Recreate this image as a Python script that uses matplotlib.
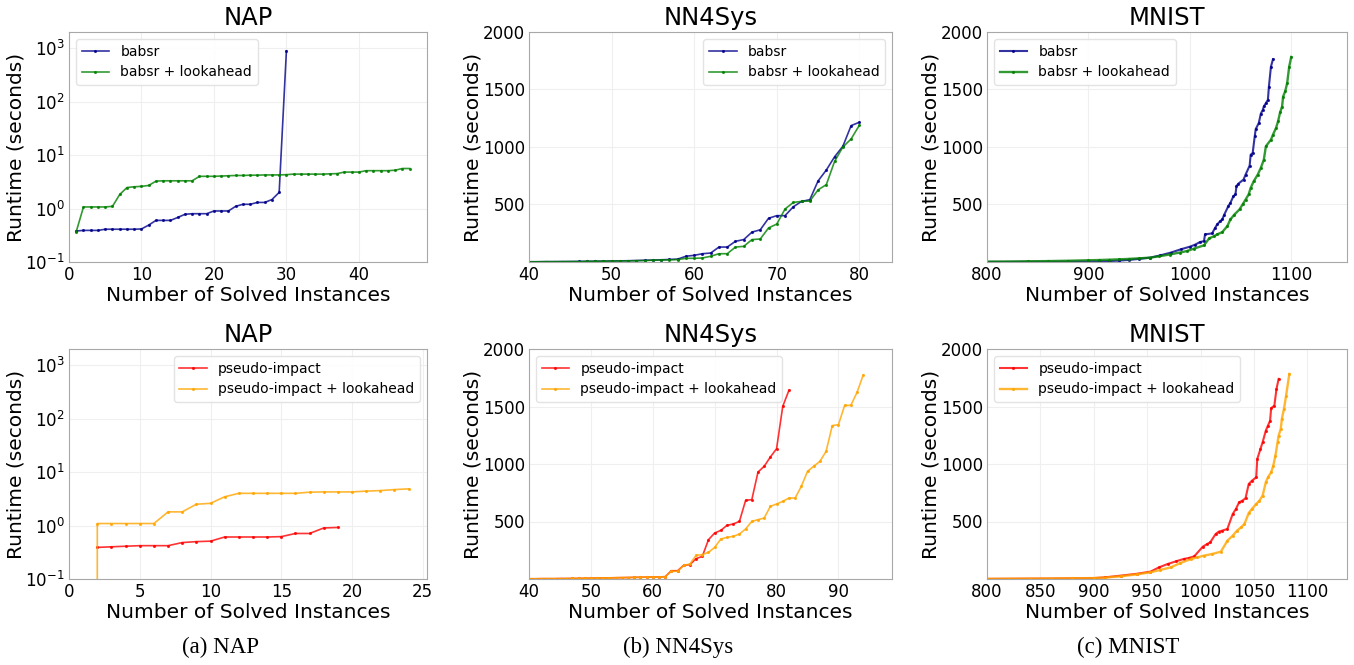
import numpy as np
import matplotlib
matplotlib.use("Agg")
import matplotlib.pyplot as plt
from matplotlib.ticker import NullLocator, LogLocator

# ---- NAP (log scale), x = 1..N ----
nap_babsr = [0.38, 0.39, 0.39, 0.39, 0.41, 0.41, 0.41, 0.41, 0.41, 0.415,
             0.49, 0.60, 0.60, 0.60, 0.68, 0.78, 0.80, 0.80, 0.80, 0.90,
             0.90, 0.90, 1.10, 1.20, 1.20, 1.30, 1.30, 1.47, 2.0, 890]
nap_babsr_la = [0.37, 1.07, 1.07, 1.07, 1.07, 1.10, 1.83, 2.47, 2.55, 2.60,
                2.70, 3.25, 3.30, 3.30, 3.30, 3.30, 3.30, 4.00, 4.00, 4.00,
                4.05, 4.10, 4.15, 4.15, 4.20, 4.20, 4.25, 4.25, 4.25, 4.30,
                4.40, 4.40, 4.40, 4.40, 4.40, 4.45, 4.50, 4.80, 4.80, 4.80,
                5.10, 5.10, 5.10, 5.10, 5.20, 5.60, 5.60]
nap_pi = [0.39, 0.40, 0.41, 0.42, 0.42, 0.42, 0.48, 0.50, 0.51, 0.61,
          0.61, 0.61, 0.61, 0.62, 0.71, 0.71, 0.90, 0.92]          # x = 2..19
nap_pi_la = [0.0, 1.09, 1.09, 1.09, 1.09, 1.09, 1.80, 1.80, 2.50, 2.60,
             3.45, 4.00, 4.00, 4.00, 4.00, 4.00, 4.20, 4.25, 4.25, 4.25,
             4.40, 4.50, 4.70, 4.85]                                # x = 1..24

# ---- NN4Sys, first value at x = 40 ----
nn_babsr = [2, 2, 3, 3, 4, 4, 5, 6, 7, 8, 9, 10, 11, 13, 15, 17, 19, 22, 25,
            50, 58, 72, 78, 130, 130, 180, 195, 260, 280, 380, 403, 403, 480,
            527, 542, 705, 800, 915, 1006, 1186, 1215]
nn_babsr_la = [2, 2, 3, 3, 3, 4, 4, 5, 6, 7, 8, 9, 10, 11, 13, 15, 17, 19, 21,
               32, 32, 35, 50, 72, 72, 130, 136, 195, 200, 296, 330, 461, 518,
               527, 530, 627, 673, 875, 1000, 1070, 1189]
nn_pi = [2, 2, 3, 3, 3, 4, 4, 5, 5, 6, 7, 8, 9, 10, 11, 12, 13, 14, 15, 16, 17,
         18, 20, 72, 72, 119, 125, 177, 197, 342, 400, 423, 467, 478, 501, 684,
         690, 930, 980, 1061, 1133, 1502, 1641]
nn_pi_la = [2, 2, 3, 3, 3, 4, 4, 5, 5, 6, 7, 8, 9, 10, 11, 12, 13, 14, 15, 16,
            17, 18, 20, 67, 67, 119, 130, 206, 212, 232, 275, 348, 362, 371,
            391, 435, 501, 516, 530, 632, 652, 675, 704, 704, 806, 936, 980,
            1023, 1110, 1334, 1342, 1510, 1510, 1623, 1774]

# ---- MNIST ----
mn_babsr_x = [790, 800, 820, 840, 860, 880, 900, 910, 920, 930, 940, 950, 961,
              971, 981, 991, 1000, 1005, 1010, 1014, 1015, 1022, 1025, 1027,
              1030, 1032, 1034, 1038, 1040, 1043, 1045, 1046, 1048, 1053, 1055,
              1059, 1060, 1062, 1064, 1065, 1068, 1070, 1072, 1073, 1075, 1077,
              1078, 1080, 1082]
mn_babsr_y = [1, 1, 1, 2, 2, 3, 4, 6, 8, 12, 18, 27, 38, 58, 81, 110, 133, 150,
              173, 182, 240, 249, 298, 327, 355, 370, 413, 486, 514, 572, 587,
              659, 682, 717, 760, 838, 933, 948, 1092, 1156, 1208, 1289, 1324,
              1353, 1381, 1410, 1526, 1699, 1763]
mn_babsr_la_x = [790, 800, 820, 840, 860, 880, 900, 910, 920, 930, 940, 950, 961,
                 970, 980, 990, 997, 1004, 1014, 1019, 1024, 1027, 1032, 1037,
                 1040, 1044, 1049, 1052, 1055, 1058, 1060, 1063, 1067, 1070,
                 1073, 1075, 1080, 1082, 1085, 1087, 1089, 1091, 1092, 1094,
                 1096, 1098, 1100]
mn_babsr_la_y = [2, 3, 4, 6, 8, 11, 15, 17, 20, 23, 27, 32, 38, 50, 65, 82, 95,
                 116, 145, 205, 225, 240, 260, 312, 370, 413, 457, 500, 543, 587,
                 644, 702, 760, 818, 890, 1006, 1064, 1107, 1165, 1222, 1300,
                 1352, 1439, 1483, 1555, 1699, 1783]
mn_pi_x = [790, 800, 820, 840, 860, 880, 900, 910, 925, 940, 953, 961, 969, 977,
           984, 989, 994, 1002, 1006, 1009, 1014, 1017, 1020, 1025, 1030, 1033,
           1036, 1039, 1042, 1045, 1048, 1052, 1053, 1056, 1058, 1061, 1063,
           1065, 1066, 1069, 1071, 1073]
mn_pi_y = [1, 1, 2, 3, 4, 6, 8, 14, 29, 45, 64, 101, 130, 154, 174, 183, 197,
           281, 304, 319, 391, 412, 420, 435, 565, 609, 667, 681, 702, 826, 855,
           884, 1044, 1131, 1189, 1290, 1334, 1377, 1485, 1508, 1653, 1740]
mn_pi_la_x = [790, 800, 820, 840, 860, 880, 900, 910, 925, 940, 953, 962, 972,
              981, 991, 997, 1003, 1011, 1019, 1025, 1030, 1034, 1038, 1041,
              1045, 1048, 1052, 1055, 1058, 1061, 1063, 1066, 1068, 1070, 1072,
              1073, 1075, 1076, 1078, 1080, 1083]
mn_pi_la_y = [1, 1, 2, 3, 4, 6, 8, 12, 23, 40, 58, 78, 101, 139, 174, 188, 203,
              218, 238, 333, 377, 420, 450, 478, 574, 609, 652, 681, 725, 841,
              884, 928, 986, 1073, 1189, 1247, 1305, 1392, 1479, 1595, 1783]

C_BLUE, C_GREEN, C_RED, C_ORANGE = "darkblue", "green", "red", "orange"

plt.rcParams["font.family"] = "DejaVu Sans"
fig = plt.figure(figsize=(13.54, 6.65), dpi=100)

W, H = 1354, 665
cols = [(69, 358), (529, 363), (987, 360)]
rows = [403, 86]


def make_ax(r, c):
    left, width = cols[c]
    return fig.add_axes([left / W, rows[r] / H, width / W, 230 / H])


def style(ax, title, legend_loc):
    ax.set_title(title, fontsize=17.5, pad=5)
    ax.set_xlabel("Number of Solved Instances", fontsize=14.5, labelpad=1)
    ax.set_ylabel("Runtime (seconds)", fontsize=14.5, labelpad=0)
    ax.tick_params(labelsize=12, length=0, pad=3)
    ax.grid(True, color="#efefef", linewidth=0.8)
    for s in ax.spines.values():
        s.set_color("#a8a8a8")
    ax.legend(loc=legend_loc, fontsize=10, framealpha=0.9, edgecolor="#e0e0e0")


def line(ax, x, y, color, label, lw=1.2):
    ax.plot(x, y, color=color, alpha=0.8, linewidth=lw, marker=".",
            markersize=2.5, label=label)


# NAP top
ax = make_ax(0, 0)
line(ax, np.arange(1, len(nap_babsr) + 1), nap_babsr, C_BLUE, "babsr")
line(ax, np.arange(1, len(nap_babsr_la) + 1), nap_babsr_la, C_GREEN, "babsr + lookahead")
ax.set_yscale("log")
ax.set_ylim(0.1, 2000)
ax.set_xlim(0, 49.4)
ax.set_xticks([0, 10, 20, 30, 40])
ax.yaxis.set_major_locator(LogLocator(base=10, numticks=10))
ax.yaxis.set_minor_locator(NullLocator())
style(ax, "NAP", "upper left")

# NN4Sys top
ax = make_ax(0, 1)
line(ax, np.arange(40, 40 + len(nn_babsr)), nn_babsr, C_BLUE, "babsr")
line(ax, np.arange(40, 40 + len(nn_babsr_la)), nn_babsr_la, C_GREEN, "babsr + lookahead")
ax.set_xlim(40, 83.95)
ax.set_ylim(0, 2000)
ax.set_xticks([40, 50, 60, 70, 80])
ax.set_yticks([500, 1000, 1500, 2000])
style(ax, "NN4Sys", "upper right")

# MNIST top
ax = make_ax(0, 2)
line(ax, mn_babsr_x, mn_babsr_y, C_BLUE, "babsr", lw=1.5)
line(ax, mn_babsr_la_x, mn_babsr_la_y, C_GREEN, "babsr + lookahead", lw=1.7)
ax.set_xlim(800, 1155)
ax.set_ylim(0, 2000)
ax.set_xticks([800, 900, 1000, 1100])
ax.set_yticks([500, 1000, 1500, 2000])
style(ax, "MNIST", "upper left")

# NAP bottom
ax = make_ax(1, 0)
line(ax, np.arange(2, 2 + len(nap_pi)), nap_pi, C_RED, "pseudo-impact")
line(ax, np.arange(1, 1 + len(nap_pi_la)), nap_pi_la, C_ORANGE, "pseudo-impact + lookahead")
ax.set_yscale("log")
ax.set_ylim(0.1, 2000)
ax.set_xlim(0, 25.3)
ax.set_xticks([0, 5, 10, 15, 20, 25])
ax.yaxis.set_major_locator(LogLocator(base=10, numticks=10))
ax.yaxis.set_minor_locator(NullLocator())
style(ax, "NAP", "upper right")

# NN4Sys bottom
ax = make_ax(1, 1)
line(ax, np.arange(40, 40 + len(nn_pi)), nn_pi, C_RED, "pseudo-impact")
line(ax, np.arange(40, 40 + len(nn_pi_la)), nn_pi_la, C_ORANGE, "pseudo-impact + lookahead")
ax.set_xlim(40, 98.65)
ax.set_ylim(0, 2000)
ax.set_xticks([40, 50, 60, 70, 80, 90])
ax.set_yticks([500, 1000, 1500, 2000])
style(ax, "NN4Sys", "upper left")

# MNIST bottom
ax = make_ax(1, 2)
line(ax, mn_pi_x, mn_pi_y, C_RED, "pseudo-impact", lw=1.5)
line(ax, mn_pi_la_x, mn_pi_la_y, C_ORANGE, "pseudo-impact + lookahead", lw=1.7)
ax.set_xlim(800, 1137)
ax.set_ylim(0, 2000)
ax.set_xticks([800, 850, 900, 950, 1000, 1050, 1100])
ax.set_yticks([500, 1000, 1500, 2000])
style(ax, "MNIST", "upper left")

captions = ["(a) NAP", "(b) NN4Sys", "(c) MNIST"]
for cx, cap in zip([221, 678, 1128], captions):
    fig.text(cx / W, 18 / H, cap, ha="center", va="center",
             fontsize=16.5, family="Liberation Serif")

fig.savefig("out.png", dpi=100)
